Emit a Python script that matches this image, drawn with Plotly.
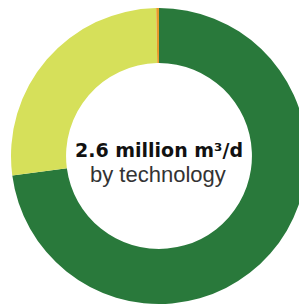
import plotly.graph_objects as go

technologies = ["Reverse osmosis", "Thermal", "Other"]
shares = [72.9, 26.8, 0.3]
colors = ["#29793b", "#d6e05a", "#e89a2a"]
total_label = "2.6 million m³/d"
sub_label = "by technology"

# page body has an 8px margin; figure sized to fill the remaining window
W, H = 299, 298
cx, cy, r = 151, 148, 148

fig = go.Figure(go.Pie(
    labels=technologies, values=shares, hole=0.628,
    sort=False, direction="clockwise", rotation=0,
    marker=dict(colors=colors, line=dict(width=0)),
    textinfo="none", hoverinfo="label+percent", showlegend=False,
    domain=dict(x=[max(0, (cx - r) / W), min(1, (cx + r) / W)],
                y=[max(0, (H - cy - r) / H), min(1, (H - cy + r) / H)]),
))
fig.add_annotation(x=150.5 / W, y=(H - 142.4) / H, xref="paper", yref="paper",
                   text="<b>" + total_label + "</b>", showarrow=False,
                   font=dict(family="DejaVu Sans", size=19, color="#111111"))
fig.add_annotation(x=149.5 / W, y=(H - 166.3) / H, xref="paper", yref="paper",
                   text=sub_label, showarrow=False,
                   font=dict(family="Liberation Sans", size=22, color="#333333"))
fig.update_layout(width=W, height=H, margin=dict(l=0, r=0, t=0, b=0),
                  paper_bgcolor="white", plot_bgcolor="white")
fig.write_html("out.html")
